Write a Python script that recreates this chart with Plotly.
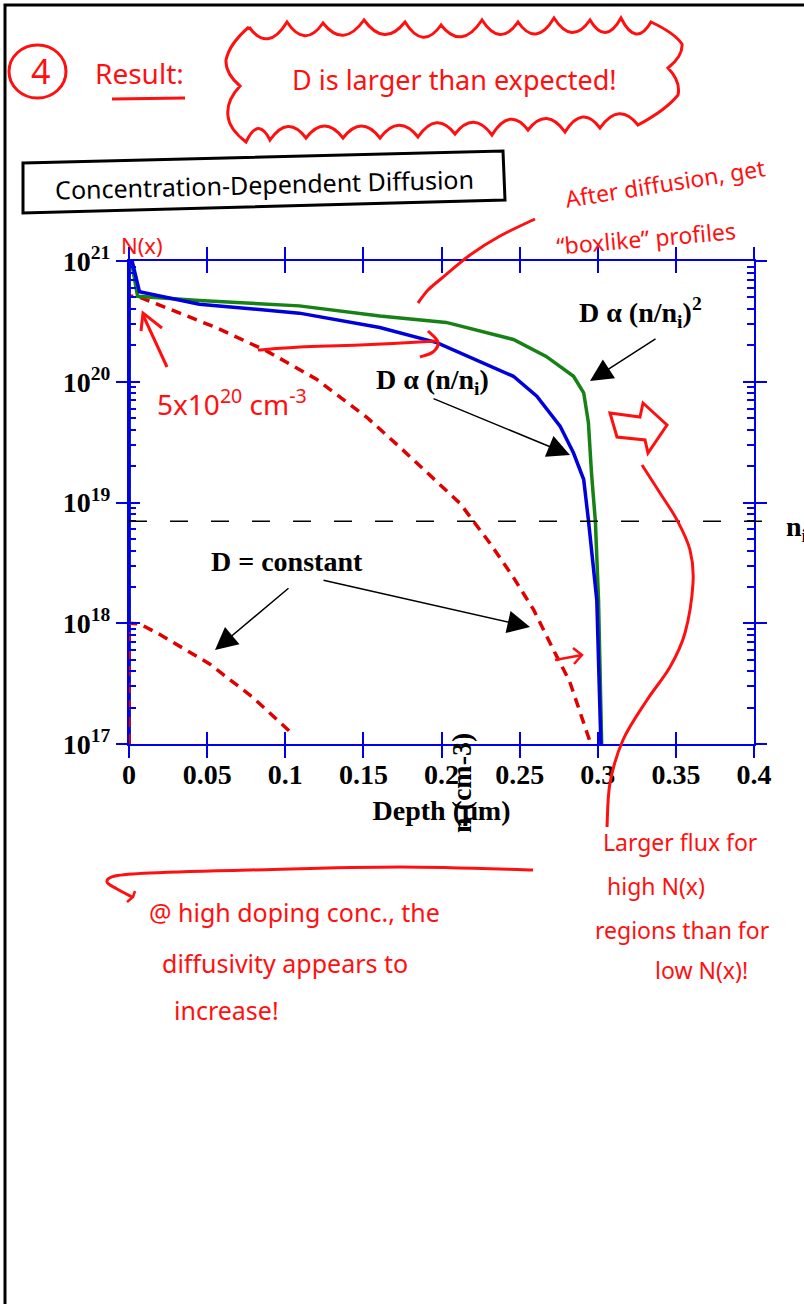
import plotly.graph_objects as go

# ---------------- data ----------------
depth_n2 = [0, 0, 0.0015, 0.0055, 0.045, 0.109, 0.1605, 0.203, 0.246, 0.267, 0.2845, 0.291, 0.294, 0.296, 0.2985, 0.3005, 0.3025]
conc_n2 = [1e17, 1e21, 1e21, 5.1e20, 4.7e20, 4.25e20, 3.5e20, 3.1e20, 2.24e20, 1.62e20, 1.11e20, 8.1e19, 4.6e19, 1.75e19, 6.9e18, 1.55e18, 1e17]

depth_n1 = [0, 0, 0.002, 0.0067, 0.045, 0.109, 0.1605, 0.197, 0.246, 0.261, 0.276, 0.2845, 0.291, 0.294, 0.2994, 0.302]
conc_n1 = [1e17, 1e21, 1e21, 5.56e20, 4.39e20, 3.7e20, 2.81e20, 2.11e20, 1.11e20, 7.6e19, 4.27e19, 2.57e19, 1.55e19, 7.2e18, 1.55e18, 1e17]

depth_const_hi = [0, 0, 0.0054, 0.026, 0.056, 0.088, 0.120, 0.152, 0.173, 0.212, 0.231, 0.246, 0.259, 0.272, 0.282, 0.295]
conc_const_hi = [1e17, 5.1e20, 5.1e20, 4.0e20, 2.8e20, 1.8e20, 1.05e20, 5.1e19, 2.9e19, 9.8e18, 4.6e18, 2.4e18, 1.29e18, 5.9e17, 3.3e17, 1.05e17]

depth_const_lo = [0, 0, 0.0067, 0.0195, 0.0516, 0.079, 0.105]
conc_const_lo = [1e17, 1e18, 9.9e17, 8.1e17, 4.6e17, 2.45e17, 1.2e17]

n_i = 7.0e18

x_tickvals = [0, 0.05, 0.1, 0.15, 0.2, 0.25, 0.3, 0.35, 0.4]
x_ticktext = ["0", "0.05", "0.1", "0.15", "0.2", "0.25", "0.3", "0.35", "0.4"]
y_tickvals = [1e17, 1e18, 1e19, 1e20, 1e21]
y_ticktext = ["10<sup>17</sup>", "10<sup>18</sup>", "10<sup>19</sup>", "10<sup>20</sup>", "10<sup>21</sup>"]
y_minorvals = [float(k) * 10.0 ** e for e in range(17, 21) for k in range(2, 10)]

# ---------------- layout helpers ----------------
W, H = 804, 1304
L, R, T, B = 129, 754, 261, 744


def PX(px):
    return (px - L) / (R - L)


def PY(py):
    return (B - py) / (B - T)


def pstr(px, py):
    return f"{PX(px):.5f},{PY(py):.5f}"


def smooth(pts, closed=False):
    n = len(pts)
    if closed:
        P = [pts[-1]] + list(pts) + [pts[0], pts[1]]
    else:
        P = [pts[0]] + list(pts) + [pts[-1]]
    d = "M " + pstr(*pts[0])
    segs = n if closed else n - 1
    for i in range(1, segs + 1):
        p0, p1, p2, p3 = P[i - 1], P[i], P[i + 1], P[i + 2]
        c1 = (p1[0] + (p2[0] - p0[0]) / 6, p1[1] + (p2[1] - p0[1]) / 6)
        c2 = (p2[0] - (p3[0] - p1[0]) / 6, p2[1] - (p3[1] - p1[1]) / 6)
        d += f" C {pstr(*c1)} {pstr(*c2)} {pstr(*p2)}"
    if closed:
        d += " Z"
    return d


def poly(pts, closed=False):
    d = "M " + " L ".join(pstr(*p) for p in pts)
    return d + (" Z" if closed else "")


RED = "#ff1010"
AX = "#0000ee"
shapes = []


def add_path(d, color=RED, width=3):
    shapes.append(dict(type="path", path=d, xref="paper", yref="paper",
                       line=dict(color=color, width=width)))


# ---------------- figure ----------------
fig = go.Figure()
fig.add_trace(go.Scatter(x=depth_const_lo, y=conc_const_lo, mode="lines",
                         line=dict(color="#e00000", width=3.5, dash="10px,7px"),
                         xaxis="x2", yaxis="y2", hoverinfo="skip"))
fig.add_trace(go.Scatter(x=depth_const_hi, y=conc_const_hi, mode="lines",
                         line=dict(color="#e00000", width=3.5, dash="10px,7px")))
fig.add_trace(go.Scatter(x=depth_n2, y=conc_n2, mode="lines",
                         line=dict(color="#168216", width=3.5)))
fig.add_trace(go.Scatter(x=depth_n1, y=conc_n1, mode="lines",
                         line=dict(color="#0000dd", width=3.5)))

tickfont = dict(family="Liberation Serif", size=28, color="black")

fig.update_layout(
    width=W, height=H,
    margin=dict(l=L, r=W - R, t=T, b=H - B, autoexpand=False),
    paper_bgcolor="white", plot_bgcolor="white",
    showlegend=False,
    xaxis=dict(range=[0, 0.4], tickmode="array", tickvals=x_tickvals,
               ticktext=[f"<b>{t}</b>" for t in x_ticktext],
               ticks="inside", ticklen=12, tickwidth=2, tickcolor=AX,
               showline=True, linecolor=AX, linewidth=2, mirror="ticks",
               showgrid=False, zeroline=False, tickfont=tickfont, ticklabelstandoff=4,
               title=dict(text="<b>Depth (μm)</b>", font=tickfont, standoff=12)),
    xaxis2=dict(range=[0, 0.4], overlaying="x", matches="x", side="bottom",
                tickmode="array", tickvals=x_tickvals, showticklabels=False,
                ticks="outside", ticklen=13, tickwidth=2, tickcolor=AX,
                showline=False, mirror="ticks", showgrid=False, zeroline=False),
    yaxis=dict(type="log", range=[17, 21], tickmode="array", tickvals=y_tickvals,
               ticktext=[f"<b>{t}</b>" for t in y_ticktext],
               ticks="outside", ticklen=11, tickwidth=2, tickcolor=AX,
               minor=dict(tickmode="array", tickvals=y_minorvals, ticks="inside",
                          ticklen=7, tickwidth=1.5, tickcolor=AX, showgrid=False),
               showline=True, linecolor=AX, linewidth=2, mirror="ticks",
               showgrid=False, zeroline=False, tickfont=tickfont),
    yaxis2=dict(type="log", range=[17, 21], overlaying="y", matches="y", side="left",
                tickmode="array", tickvals=y_tickvals, showticklabels=False,
                ticks="inside", ticklen=11, tickwidth=2, tickcolor=AX,
                showline=False, mirror="ticks", showgrid=False, zeroline=False),
)

# n_i reference line (extends past the right axis)
shapes.append(dict(type="line", xref="paper", yref="y", x0=0, x1=PX(772), y0=n_i, y1=n_i,
                   line=dict(color="black", width=1.5, dash="18px,23px")))

ann = []


def text(px, py, s, size=28, color="black", family="Liberation Serif", xanchor="center",
         angle=0, yanchor="middle"):
    ann.append(dict(x=PX(px), y=PY(py), xref="paper", yref="paper", text=s, showarrow=False,
                    font=dict(family=family, size=size, color=color), xanchor=xanchor,
                    yanchor=yanchor, textangle=angle))


def arrow(tail, tip):
    ann.append(dict(x=PX(tip[0]), y=PY(tip[1]), xref="paper", yref="paper", text="",
                    showarrow=True, arrowhead=2, arrowsize=3, arrowwidth=1.5,
                    arrowcolor="black", ax=tail[0] - tip[0], ay=tail[1] - tip[1]))


# printed labels
text(640, 312, "<b>D α (n/n<sub>i</sub>)<sup>2</sup></b>")
text(432, 381, "<b>D α (n/n<sub>i</sub>)</b>")
text(287, 561, "<b>D = constant</b>")
text(784, 528, "<b>n<sub>i</sub></b>", xanchor="left")
text(461, 783, "<b>n (cm-3)</b>", angle=-90)
arrow((657, 338), (590, 381))
arrow((432, 398), (570, 455))
arrow((290, 587), (215, 650))
arrow((322, 580), (530, 627))

# ---------------- hand-drawn annotations ----------------
HF = "Noto Sans"
# page frame
add_path(poly([(5, 1304), (5, 5), (804, 5)]), color="black", width=3)

# (4) Result:
shapes.append(dict(type="circle", xref="paper", yref="paper",
                   x0=PX(9), x1=PX(66), y0=PY(98), y1=PY(45),
                   line=dict(color=RED, width=3)))
text(40, 71, "4", size=34, color=RED, family=HF)
text(93, 73, "Result:", size=28, color=RED, family=HF, xanchor="left")
add_path(poly([(112, 99), (185, 98)]))

# cloud
top = [(249, 27), (287, 22), (323, 23), (364, 20), (405, 22), (441, 25), (482, 20), (518, 22),
       (554, 18), (590, 20), (621, 18), (651, 22)]
bot = [(638, 125), (600, 128), (565, 132), (528, 130), (492, 135), (455, 134), (418, 137),
       (380, 138), (343, 138), (306, 138), (270, 140), (246, 142)]
d = "M " + pstr(*top[0])
for a, b in zip(top[:-1], top[1:]):
    d += f" Q {pstr((a[0] + b[0]) / 2, max(a[1], b[1]) + 26)} {pstr(*b)}"
rt = [(651, 22), (682, 44), (668, 68), (678, 95), (638, 125)]
for a, b in zip(rt[:-1], rt[1:]):
    d += f" Q {pstr((a[0] + b[0]) / 2 + 8, (a[1] + b[1]) / 2)} {pstr(*b)}"
for a, b in zip(bot[:-1], bot[1:]):
    d += f" Q {pstr((a[0] + b[0]) / 2, min(a[1], b[1]) - 24)} {pstr(*b)}"
lf = [(246, 142), (228, 116), (240, 86), (226, 60), (249, 27)]
for a, b in zip(lf[:-1], lf[1:]):
    d += f" Q {pstr((a[0] + b[0]) / 2 - 8, (a[1] + b[1]) / 2)} {pstr(*b)}"
add_path(d)
text(454, 79, "D is larger than expected!", size=27, color=RED, family=HF)

# title box
add_path(poly([(23, 163), (503, 151), (505, 200), (23, 213)], closed=True), color="black", width=3)
text(264, 184, "Concentration-Dependent Diffusion", size=25, color="black", family=HF, angle=-1.5)

# After diffusion...
text(665, 183, "After diffusion, get", size=23, color=RED, family=HF, angle=-9)
text(646, 238, "“boxlike” profiles", size=23, color=RED, family=HF, angle=-5)
add_path(smooth([(418, 303), (428, 290), (442, 278), (470, 255), (500, 236), (535, 219)]))

# N(x)
text(142, 245, "N(x)", size=22, color=RED, family=HF)

# 5x10^20 cm-3
text(155, 402, "5x10<sup>20</sup> cm<sup>-3</sup>", size=28, color=RED, family=HF, xanchor="left")
add_path(poly([(167, 367), (143, 315)]))
add_path(poly([(162, 328), (143, 313), (141, 331)]))

# arrow from dashed to blue
add_path(smooth([(258, 350), (300, 347), (360, 345), (437, 341)]))
add_path(smooth([(428, 331), (438, 342), (433, 352), (420, 357)]))

# small arrow near dashed curve
add_path(poly([(555, 660), (582, 655)]), width=2.5)
add_path(poly([(573, 648), (582, 655), (574, 664)]), width=2.5)

# block arrow
add_path(poly([(610, 413), (640, 417), (643, 403), (667, 425), (648, 453), (645, 440), (617, 437)],
              closed=True))

# S curve
add_path(smooth([(642, 465), (660, 493), (677, 520), (690, 550), (693, 583), (685, 633),
                 (670, 667), (647, 700), (623, 740), (610, 783), (607, 827)]))

# larger flux text
text(680, 842, "Larger flux for", size=23, color=RED, family=HF)
text(656, 886, "high N(x)", size=23, color=RED, family=HF)
text(682, 930, "regions than for", size=23, color=RED, family=HF)
text(701, 970, "low N(x)!", size=23, color=RED, family=HF)

# long hook line
add_path(smooth([(533, 870), (400, 867), (250, 870), (150, 873), (115, 876), (107, 882),
                 (117, 889), (132, 897)]))
add_path(poly([(127, 902), (133, 897), (135, 891)]), width=2.5)

text(147, 912, "@ high doping conc., the", size=25, color=RED, family=HF, xanchor="left")
text(160, 963, "diffusivity appears to", size=25, color=RED, family=HF, xanchor="left")
text(172, 1010, "increase!", size=25, color=RED, family=HF, xanchor="left")

fig.update_layout(shapes=shapes, annotations=ann)
fig.write_html("out.html", config={"displayModeBar": False},
               post_script="document.body.style.margin='0px';document.body.style.overflow='hidden';")
